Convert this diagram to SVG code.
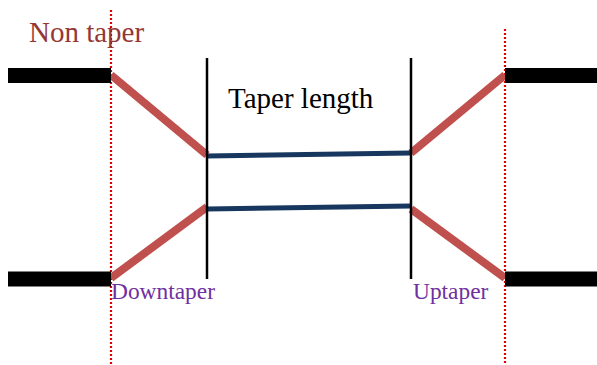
<svg xmlns="http://www.w3.org/2000/svg" width="597" height="365" viewBox="0 0 597 365">
<style>
.fiber{stroke:#000;stroke-width:15;fill:none}
.taper{stroke:#c0504d;stroke-width:8;fill:none}
.waist{stroke:#17375e;stroke-width:5;fill:none}
.bound{stroke:#000;stroke-width:2.5;fill:none}
.dot{stroke:#e00000;stroke-width:2.2;stroke-dasharray:2 2;fill:none}
.t{font-family:"Liberation Serif","Times New Roman",serif}
</style>
<rect width="597" height="365" fill="#fff"/>
<g id="guides">
<line class="dot" x1="111" y1="10" x2="111" y2="365"/>
<line class="dot" x1="505" y1="29" x2="505" y2="365"/>
</g>
<g id="connectors">
<line class="taper" x1="111" y1="75" x2="207" y2="155"/>
<line class="taper" x1="111" y1="278" x2="207" y2="207"/>
<line class="taper" x1="411" y1="153" x2="505" y2="75"/>
<line class="taper" x1="411" y1="209" x2="505" y2="278"/>
<line class="waist" x1="207" y1="156" x2="411" y2="153"/>
<line class="waist" x1="207" y1="209" x2="411" y2="206"/>
</g>
<g id="fiber-left-top"><line class="fiber" x1="8" y1="75.5" x2="111" y2="75.5"/></g>
<g id="fiber-left-bottom"><line class="fiber" x1="8" y1="279" x2="111" y2="279"/></g>
<g id="fiber-right-top"><line class="fiber" x1="505" y1="75.5" x2="597" y2="75.5"/></g>
<g id="fiber-right-bottom"><line class="fiber" x1="505" y1="279" x2="597" y2="279"/></g>
<g id="boundary-left"><line class="bound" x1="207" y1="58" x2="207" y2="279"/></g>
<g id="boundary-right"><line class="bound" x1="411" y1="58" x2="411" y2="279"/></g>
<g id="labels">
<text class="t" x="29" y="42" font-size="29" fill="#953735">Non taper</text>
<text class="t" x="228" y="108" font-size="29" fill="#000">Taper length</text>
<text class="t" x="111" y="299" font-size="23.4" fill="#7030a0">Downtaper</text>
<text class="t" x="413" y="299" font-size="23.4" fill="#7030a0">Uptaper</text>
</g>
</svg>
